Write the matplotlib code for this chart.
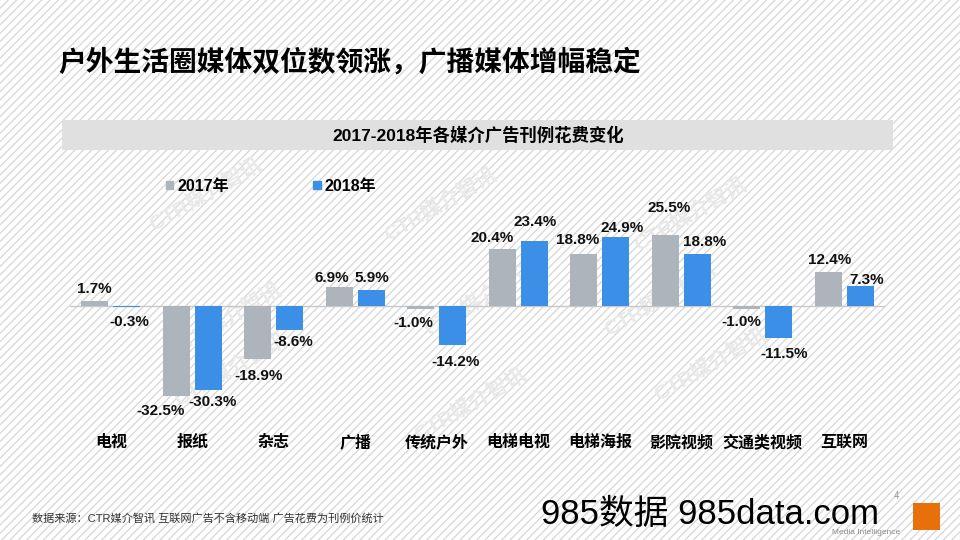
import matplotlib
matplotlib.use('Agg')
import matplotlib.pyplot as plt
import matplotlib.transforms as mtransforms
from matplotlib.patches import Patch, Rectangle
import numpy as np

plt.rcParams['font.family'] = ['Liberation Sans', 'Noto Sans CJK SC', 'DejaVu Sans']
plt.rcParams['hatch.color'] = '#d6d6d6'
plt.rcParams['hatch.linewidth'] = 0.9

categories = ['电视', '报纸', '杂志', '广播', '传统户外', '电梯电视', '电梯海报', '影院视频', '交通类视频', '互联网']
v2017 = [1.7, -32.5, -18.9, 6.9, -1.0, 20.4, 18.8, 25.5, -1.0, 12.4]
v2018 = [-0.3, -30.3, -8.6, 5.9, -14.2, 23.4, 24.9, 18.8, -11.5, 7.3]
series_names = ['2017年', '2018年']

title = '户外生活圈媒体双位数领涨，广播媒体增幅稳定'
subtitle = '2017-2018年各媒介广告刊例花费变化'
source = '数据来源：CTR媒介智讯 互联网广告不含移动端 广告花费为刊例价统计'

c17 = '#aeb4bc'
c18 = '#3b8fe6'

# label nudges in pixels (dx, distance from bar end)
dx17 = [0, -16, 1, -7, -7, -10, -6, 4, -5, 1]
dy17 = [12, 15, 17, 9, 14, 11, 14, 27, 13, 12]
dx18 = [3, 4, 4, 1, 3, 1, 6, 7, 5, 6]
dy18 = [15, 12, 12, 12, 17, 19, 9, 12, 16, 6]

fig = plt.figure(figsize=(9.6, 5.4), dpi=100)

# hatched slide background
bg = Rectangle((0, 0), 1, 1, transform=fig.transFigure, facecolor='white',
               edgecolor='#d6d6d6', hatch='////', lw=0, zorder=-10)
fig.patches.append(bg)

# faint watermarks
for (wx, wy) in [(205, 195), (440, 205), (690, 215), (225, 320), (480, 300),
                 (660, 300), (230, 370), (470, 405), (710, 365)]:
    fig.text(wx / 960, 1 - wy / 540, 'CTR媒介智讯', fontsize=15, fontweight='bold',
             color='#e9e9e9', rotation=30, ha='center', va='center', zorder=-5)

fig.text(58 / 960, 1 - 63 / 540, title, fontsize=20, fontweight='bold',
         color='black', ha='left', va='center')

band = Rectangle((62 / 960, 1 - 150 / 540), 831 / 960, 30 / 540,
                 transform=fig.transFigure, facecolor='#e0e0e0', edgecolor='none', zorder=-1)
fig.patches.append(band)
fig.text(478 / 960, 1 - 135 / 540, subtitle, fontsize=12.5, fontweight='bold',
         ha='center', va='center')

ax = fig.add_axes([70 / 960, (540 - 431.1) / 540, 815 / 960, 250.2 / 540])
ax.patch.set_alpha(0)
x = np.arange(len(categories))
off = 16 / 81.5
w = 27 / 81.5
ax.bar(x - off, v2017, w, color=c17, zorder=2)
ax.bar(x + off, v2018, w, color=c18, zorder=2)
ax.axhline(0, color='#c8c8c8', lw=1, zorder=1)
ax.set_xlim(-0.5, len(categories) - 0.5)
ax.set_ylim(-45, 45)
for s in ax.spines.values():
    s.set_visible(False)
ax.set_yticks([])
ax.set_xticks([])

# category names on a common baseline
trans = mtransforms.blended_transform_factory(ax.transData, fig.transFigure)
for xi, name in zip(x, categories):
    ax.text(xi, 1 - 447 / 540, name, transform=trans, ha='center', va='baseline',
            fontsize=11.5, fontweight='bold', clip_on=False)

def label(xs, vals, dxs, dys):
    for xi, v, dx, dy in zip(xs, vals, dxs, dys):
        sign = 1 if v >= 0 else -1
        ax.annotate(f'{v:.1f}%', (xi, v), xytext=(dx, sign * dy),
                    textcoords='offset pixels', ha='center', va='center',
                    fontsize=11, fontweight='bold', color='#111111')

label(x - off, v2017, dx17, dy17)
label(x + off, v2018, dx18, dy18)

handles = [Patch(color=c17, label=series_names[0]), Patch(color=c18, label=series_names[1])]
leg = fig.legend(handles=handles, loc='center left', bbox_to_anchor=(166 / 960, 1 - 186 / 540),
                 ncol=2, frameon=False, fontsize=11.5, handlelength=0.45, handleheight=0.45,
                 handletextpad=0.25, columnspacing=5.3, borderpad=0, borderaxespad=0)
for t in leg.get_texts():
    t.set_fontweight('bold')

fig.text(32 / 960, 1 - 518 / 540, source, fontsize=8, color='#333333', ha='left', va='center')

# bottom-right marks
fig.text(541 / 960, 1 - 524 / 540, '985数据 985data.com', fontsize=25, color='black',
         ha='left', va='baseline')
logo = Rectangle((913 / 960, 1 - 530 / 540), 27 / 960, 27 / 540,
                 transform=fig.transFigure, facecolor='#e8700a', edgecolor='none')
fig.patches.append(logo)
fig.text(832 / 960, 1 - 533 / 540, 'Media Intelligence', fontsize=6, color='#8a8a8a',
         ha='left', va='center')
fig.text(897 / 960, 1 - 496 / 540, '4', fontsize=7, color='#999999', ha='center', va='center')

fig.savefig('out.png', dpi=100)
